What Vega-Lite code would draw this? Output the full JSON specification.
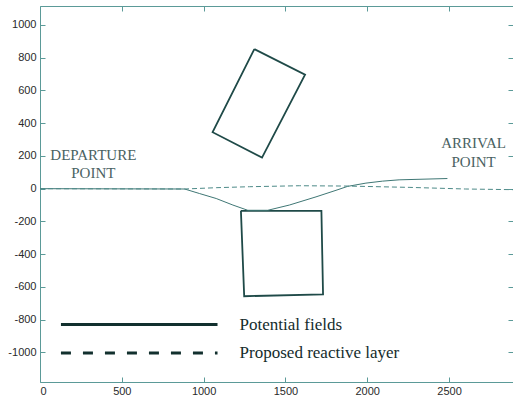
{
  "$schema": "https://vega.github.io/schema/vega-lite/v6.json",
  "width": 473,
  "height": 376,
  "autosize": {"type": "none"},
  "padding": {"left": 40, "top": 6, "right": 0, "bottom": 19},
  "background": "white",
  "config": {"view": {"stroke": null}},
  "datasets": {
    "rects": [
      {"shape": "r1", "i": 0, "x": 1310, "y": 853},
      {"shape": "r1", "i": 1, "x": 1620, "y": 697},
      {"shape": "r1", "i": 2, "x": 1357, "y": 190},
      {"shape": "r1", "i": 3, "x": 1055, "y": 345},
      {"shape": "r1", "i": 4, "x": 1310, "y": 853},
      {"shape": "r2", "i": 0, "x": 1228, "y": -135},
      {"shape": "r2", "i": 1, "x": 1720, "y": -135},
      {"shape": "r2", "i": 2, "x": 1730, "y": -646},
      {"shape": "r2", "i": 3, "x": 1248, "y": -657},
      {"shape": "r2", "i": 4, "x": 1228, "y": -135}
    ],
    "paths": [
      {"series": "pf", "i": 0, "x": 0, "y": 0},
      {"series": "pf", "i": 1, "x": 884, "y": -2},
      {"series": "pf", "i": 2, "x": 976, "y": -30},
      {"series": "pf", "i": 3, "x": 1077, "y": -60},
      {"series": "pf", "i": 4, "x": 1179, "y": -100},
      {"series": "pf", "i": 5, "x": 1270, "y": -132},
      {"series": "pf", "i": 6, "x": 1392, "y": -132},
      {"series": "pf", "i": 7, "x": 1524, "y": -100},
      {"series": "pf", "i": 8, "x": 1687, "y": -50},
      {"series": "pf", "i": 9, "x": 1809, "y": -10},
      {"series": "pf", "i": 10, "x": 1880, "y": 14},
      {"series": "pf", "i": 11, "x": 1992, "y": 34},
      {"series": "pf", "i": 12, "x": 2093, "y": 46},
      {"series": "pf", "i": 13, "x": 2195, "y": 54},
      {"series": "pf", "i": 14, "x": 2490, "y": 62},
      {"series": "rl", "i": 0, "x": 0, "y": 0},
      {"series": "rl", "i": 1, "x": 884, "y": -2},
      {"series": "rl", "i": 2, "x": 1077, "y": 6},
      {"series": "rl", "i": 3, "x": 1280, "y": 12},
      {"series": "rl", "i": 4, "x": 1585, "y": 18},
      {"series": "rl", "i": 5, "x": 1878, "y": 16},
      {"series": "rl", "i": 6, "x": 2256, "y": 8},
      {"series": "rl", "i": 7, "x": 2602, "y": -2},
      {"series": "rl", "i": 8, "x": 2891, "y": -6}
    ],
    "legendLines": [
      {"series": "Potential fields", "x": 128, "y": -830},
      {"series": "Potential fields", "x": 1085, "y": -830},
      {"series": "Proposed reactive layer", "x": 128, "y": -1004},
      {"series": "Proposed reactive layer", "x": 1085, "y": -1004}
    ],
    "legendText": [
      {"label": "Potential fields", "x": 1220, "y": -830},
      {"label": "Proposed reactive layer", "x": 1220, "y": -1004}
    ],
    "pointText": [
      {"label": "DEPARTURE", "x": 326, "y": 205},
      {"label": "POINT", "x": 326, "y": 95},
      {"label": "ARRIVAL", "x": 2650, "y": 278},
      {"label": "POINT", "x": 2650, "y": 162}
    ]
  },
  "layer": [
    {
      "data": {"name": "rects"},
      "mark": {"type": "line", "stroke": "#1f4a48", "strokeWidth": 1.8, "strokeJoin": "miter"},
      "encoding": {
        "x": {
          "field": "x", "type": "quantitative",
          "scale": {"domain": [0, 2891], "nice": false, "zero": false},
          "axis": {
            "orient": "bottom", "title": null, "grid": false,
            "labelExpr": "'' + datum.value",
            "values": [0, 500, 1000, 1500, 2000, 2500],
            "domainColor": "#5b9a98", "tickColor": "#5b9a98",
            "tickSize": -5, "labelPadding": 8,
            "labelFont": "Liberation Sans", "labelFontSize": 11, "labelColor": "#2a2a2a"
          }
        },
        "y": {
          "field": "y", "type": "quantitative",
          "scale": {"domain": [-1181, 1116], "nice": false, "zero": false},
          "axis": {
            "orient": "left", "title": null, "grid": false,
            "labelExpr": "'' + datum.value",
            "values": [-1000, -800, -600, -400, -200, 0, 200, 400, 600, 800, 1000],
            "domainColor": "#5b9a98", "tickColor": "#5b9a98",
            "tickSize": -5, "labelPadding": 9,
            "labelFont": "Liberation Sans", "labelFontSize": 11, "labelColor": "#2a2a2a"
          }
        },
        "detail": {"field": "shape"},
        "order": {"field": "i", "type": "quantitative"}
      }
    },
    {
      "data": {"name": "paths"},
      "transform": [{"filter": "datum.series === 'pf'"}],
      "mark": {"type": "line", "stroke": "#3f7775", "strokeWidth": 1},
      "encoding": {
        "x": {
          "field": "x", "type": "quantitative",
          "axis": {
            "orient": "top", "title": null, "grid": false, "labels": false,
            "values": [0, 500, 1000, 1500, 2000, 2500],
            "domainColor": "#5b9a98", "tickColor": "#5b9a98", "tickSize": -5
          }
        },
        "y": {
          "field": "y", "type": "quantitative",
          "axis": {
            "orient": "right", "title": null, "grid": false, "labels": false, "domain": false,
            "values": [-1000, -800, -600, -400, -200, 0, 200, 400, 600, 800, 1000],
            "tickColor": "#5b9a98", "tickSize": -5
          }
        },
        "order": {"field": "i", "type": "quantitative"}
      }
    },
    {
      "data": {"name": "paths"},
      "transform": [{"filter": "datum.series === 'rl'"}],
      "mark": {"type": "line", "stroke": "#4d8a88", "strokeWidth": 1, "strokeDash": [5, 3]},
      "encoding": {
        "x": {"field": "x", "type": "quantitative", "axis": null},
        "y": {"field": "y", "type": "quantitative", "axis": null},
        "order": {"field": "i", "type": "quantitative"}
      }
    },
    {
      "data": {"name": "legendLines"},
      "transform": [{"filter": "datum.series === 'Potential fields'"}],
      "mark": {"type": "line", "stroke": "#12302e", "strokeWidth": 3},
      "encoding": {
        "x": {"field": "x", "type": "quantitative", "axis": null},
        "y": {"field": "y", "type": "quantitative", "axis": null}
      }
    },
    {
      "data": {"name": "legendLines"},
      "transform": [{"filter": "datum.series === 'Proposed reactive layer'"}],
      "mark": {"type": "line", "stroke": "#12302e", "strokeWidth": 3, "strokeDash": [10, 12]},
      "encoding": {
        "x": {"field": "x", "type": "quantitative", "axis": null},
        "y": {"field": "y", "type": "quantitative", "axis": null}
      }
    },
    {
      "data": {"name": "legendText"},
      "mark": {"type": "text", "align": "left", "baseline": "middle", "font": "Liberation Serif", "fontSize": 17, "fill": "#142c2c"},
      "encoding": {
        "x": {"field": "x", "type": "quantitative", "axis": null},
        "y": {"field": "y", "type": "quantitative", "axis": null},
        "text": {"field": "label"}
      }
    },
    {
      "data": {"name": "pointText"},
      "mark": {"type": "text", "align": "center", "baseline": "middle", "font": "Liberation Serif", "fontSize": 15, "fill": "#4a6262"},
      "encoding": {
        "x": {"field": "x", "type": "quantitative", "axis": null},
        "y": {"field": "y", "type": "quantitative", "axis": null},
        "text": {"field": "label"}
      }
    }
  ]
}
